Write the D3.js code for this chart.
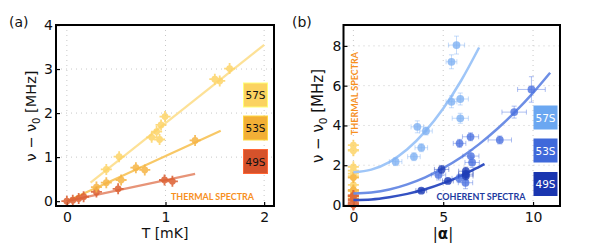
<!DOCTYPE html>
<html><head><meta charset="utf-8">
<script src="https://cdn.jsdelivr.net/npm/d3@7"></script>
<style>
html,body{margin:0;padding:0;background:#fff;}
svg{display:block;font-family:"DejaVu Sans",sans-serif;}
</style></head>
<body>
<svg id="chart" width="599" height="252"></svg>
<script>
// ---------- Panel (a) data ----------
const aT57 = [0.40,0.53,0.86,0.91,0.94,0.955,0.995,1.50,1.55,1.65];
const aV57 = [0.72,1.01,1.45,1.58,1.40,1.73,1.92,2.77,2.73,3.01];
const aT53 = [0.30,0.40,0.55,0.70,0.79,1.30];
const aV53 = [0.32,0.42,0.48,0.76,0.71,1.38];
const aT49 = [0.00,0.06,0.12,0.17,0.30,0.52,0.99,1.07];
const aV49 = [0.00,0.02,0.06,0.10,0.21,0.28,0.48,0.45];
const aFitT57 = [0.24,2.00], aFitV57 = [0.42,3.55];
const aFitT53 = [0.00,1.56], aFitV53 = [0.00,1.60];
const aFitT49 = [0.00,1.30], aFitV49 = [0.00,0.62];
const aXTicks = [0,1,2];
const aYTicks = [0,1,2,3,4];

// ---------- Panel (b) data ----------
const bA57 = [2.35,3.37,3.56,4.04,3.78,5.46,5.74,5.46,5.95,5.95];
const bV57 = [2.18,2.43,3.93,3.72,2.88,7.20,8.04,5.19,5.33,4.36];
const bAE57 = [0.35,0.35,0.35,0.35,0.35,0.30,0.45,0.30,0.45,0.45];
const bVE57 = [0.20,0.20,0.30,0.20,0.20,0.35,0.45,0.30,0.30,0.25];
const bA53 = [9.91,8.95,8.15,6.52,5.91,6.54,6.61,4.74,6.24,5.89];
const bV53 = [5.81,4.67,3.27,3.43,3.10,2.46,2.14,1.51,1.12,1.34];
const bAE53 = [0.77,0.68,0.65,0.45,0.35,0.45,0.40,0.40,0.40,0.40];
const bVE53 = [0.64,0.30,0.20,0.20,0.20,0.30,0.25,0.25,0.30,0.20];
const bA49 = [3.78,5.26,4.91,6.26,6.26,6.26];
const bV49 = [0.72,1.21,1.79,1.70,1.55,1.46];
const bAE49 = [0.30,0.30,0.40,0.40,0.40,0.40];
const bVE49 = [0.10,0.10,0.20,0.20,0.20,0.20];
const bCurveA57 = [0,1,2,3,4,5,6,7];
const bCurveV57 = [1.65,1.78,2.16,2.80,3.70,4.85,6.26,7.92];
const bCurveA53 = [0,1,2,3,4,5,6,7,8,9,10,10.95];
const bCurveV53 = [0.58,0.63,0.78,1.04,1.39,1.85,2.40,3.06,3.82,4.68,5.64,6.65];
const bCurveA49 = [0,1,2,3,4,5,6,7,7.3];
const bCurveV49 = [0.25,0.28,0.39,0.56,0.79,1.10,1.47,1.92,2.06];
const bXTicks = [0,5,10];
const bYTicks = [0,2,4,6,8];
const seriesNames = ["57S","53S","49S"];

const svg = d3.select("#chart");

// colours
const warm = {pt:["#fdd467","#f6b444","#dc5d2f"], line:["#fde196","#f8c866","#e79478"], box:["#fbd360","#f2af36","#d6522b"]};
const cool = {pt:["#80b2f3","#4c72e0","#1f3db6"], line:["#9fc6f8","#6d8ee5","#3451c2"], box:["#6ba7f1","#3f69da","#1a36b0"]};

function frame(g, x0, x1, y0, y1){
  g.append("rect").attr("x",x0).attr("y",y0).attr("width",x1-x0).attr("height",y1-y0)
    .attr("fill","none").attr("stroke","#000").attr("stroke-width",2);
}
function crossMarks(g, data, fx, fy, color){
  const gg = g.append("g").attr("opacity",0.85);
  gg.selectAll("path").data(data).enter().append("path")
    .attr("d",d=>{const x=fx(d),y=fy(d);return `M${x-5.5},${y}H${x+5.5}M${x},${y-5.5}V${y+5.5}`;})
    .attr("stroke",color).attr("stroke-width",1.8);
  gg.selectAll("circle").data(data).enter().append("circle")
    .attr("cx",fx).attr("cy",fy).attr("r",3.4).attr("fill",color);
}

// ================= Panel (a) =================
const xa = d3.scaleLinear().domain([-0.11,2.1]).range([56,274]);
const ya = d3.scaleLinear().domain([-0.11,4.0]).range([206,25]);
const ga = svg.append("g");

ga.selectAll(".gx").data(aXTicks).enter().append("line")
  .attr("x1",d=>xa(d)).attr("x2",d=>xa(d)).attr("y1",25).attr("y2",206)
  .attr("stroke","#c8c8c8").attr("stroke-width",1).attr("stroke-dasharray","1,4");
ga.selectAll(".gy").data(aYTicks.filter(d=>d>0)).enter().append("line")
  .attr("x1",56).attr("x2",274).attr("y1",d=>ya(d)).attr("y2",d=>ya(d))
  .attr("stroke","#c8c8c8").attr("stroke-width",1).attr("stroke-dasharray","1,4");

const axA_x = ga.append("g").attr("transform","translate(0,206)")
  .call(d3.axisBottom(xa).tickValues(aXTicks).tickSize(-4).tickPadding(6).tickFormat(d3.format("d")));
const axA_y = ga.append("g").attr("transform","translate(56,0)")
  .call(d3.axisLeft(ya).tickValues(aYTicks).tickSize(-4).tickPadding(3).tickFormat(d3.format("d")));
[axA_x, axA_y].forEach(a=>{
  a.select(".domain").remove();
  a.selectAll("line").attr("stroke","#000").attr("stroke-width",1.2);
  a.selectAll("text").attr("font-size",14).attr("fill","#111").attr("font-family","DejaVu Sans, sans-serif");
});

const fitsA = [[aFitT57,aFitV57],[aFitT53,aFitV53],[aFitT49,aFitV49]];
fitsA.forEach((f,i)=>{
  ga.append("path").datum(f[0].map((t,k)=>[t,f[1][k]]))
    .attr("d", d3.line().x(d=>xa(d[0])).y(d=>ya(d[1])))
    .attr("stroke",warm.line[i]).attr("stroke-width",2.2).attr("fill","none");
});
const ptsA = [[aT57,aV57],[aT53,aV53],[aT49,aV49]];
[2,1,0].forEach(i=>{
  const data = ptsA[i][0].map((t,k)=>[t,ptsA[i][1][k]]);
  crossMarks(ga, data, d=>xa(d[0]), d=>ya(d[1]), warm.pt[i]);
});

const boxYa = [83,116,149.5];
seriesNames.forEach((n,i)=>{
  ga.append("rect").attr("x",243.5).attr("y",boxYa[i]).attr("width",24).attr("height",24)
    .attr("fill",warm.box[i]).attr("stroke",d3.color(warm.box[i]).brighter(0.6)).attr("stroke-width",1);
  ga.append("text").attr("x",255.5).attr("y",boxYa[i]+16).attr("text-anchor","middle")
    .attr("font-size",10.5).attr("fill","#111").text(n);
});
ga.append("text").attr("x",171).attr("y",200).attr("font-family","Lato, sans-serif").attr("font-weight","bold")
  .attr("font-size",9).attr("fill","#f7901e").attr("textLength",83).attr("lengthAdjust","spacingAndGlyphs").text("THERMAL SPECTRA");

frame(ga,56,274,25,206);
ga.append("text").attr("x",9).attr("y",27).attr("font-size",14).attr("fill","#111").text("(a)");
ga.append("text").attr("x",165).attr("y",238).attr("text-anchor","middle").attr("font-size",14).attr("fill","#111").text("T [mK]");
const ylabA = ga.append("text").attr("transform","translate(36,116) rotate(-90)").attr("text-anchor","middle")
  .attr("font-size",14.5).attr("fill","#111");
ylabA.append("tspan").text("ν − ν");
ylabA.append("tspan").attr("font-size",10).attr("dy",4).text("0");
ylabA.append("tspan").attr("dy",-4).text(" [MHz]");

// ================= Panel (b) =================
const xb = d3.scaleLinear().domain([-0.55,11.5]).range([343.5,560]);
const yb = d3.scaleLinear().domain([-0.05,9.05]).range([206,25]);
const gb = svg.append("g");

gb.selectAll(".gx").data(bXTicks).enter().append("line")
  .attr("x1",d=>xb(d)).attr("x2",d=>xb(d)).attr("y1",25).attr("y2",206)
  .attr("stroke","#c8c8c8").attr("stroke-width",1).attr("stroke-dasharray","1,4");
gb.selectAll(".gy").data(bYTicks.filter(d=>d>0)).enter().append("line")
  .attr("x1",343.5).attr("x2",560).attr("y1",d=>yb(d)).attr("y2",d=>yb(d))
  .attr("stroke","#c8c8c8").attr("stroke-width",1).attr("stroke-dasharray","1,4");

const axB_x = gb.append("g").attr("transform","translate(0,206)")
  .call(d3.axisBottom(xb).tickValues(bXTicks).tickSize(-4).tickPadding(6).tickFormat(d3.format("d")));
const axB_y = gb.append("g").attr("transform","translate(343.5,0)")
  .call(d3.axisLeft(yb).tickValues(bYTicks).tickSize(-4).tickPadding(2).tickFormat(d3.format("d")));
[axB_x, axB_y].forEach(a=>{
  a.select(".domain").remove();
  a.selectAll("line").attr("stroke","#000").attr("stroke-width",1.2);
  a.selectAll("text").attr("font-size",14).attr("fill","#111").attr("font-family","DejaVu Sans, sans-serif");
});

[[aV57,0],[aV53,1],[aV49,2]].forEach(([vals,i])=>{
  crossMarks(gb, vals, d=>xb(0), d=>yb(d), warm.pt[i]);
});

const curvesB = [[bCurveA57,bCurveV57],[bCurveA53,bCurveV53],[bCurveA49,bCurveV49]];
curvesB.forEach((c,i)=>{
  gb.append("path").datum(c[0].map((a,k)=>[a,c[1][k]]))
    .attr("d", d3.line().curve(d3.curveMonotoneX).x(d=>xb(d[0])).y(d=>yb(d[1])))
    .attr("stroke",cool.line[i]).attr("stroke-width",2.5).attr("fill","none");
});

const ptsB = [[bA57,bV57,bAE57,bVE57],[bA53,bV53,bAE53,bVE53],[bA49,bV49,bAE49,bVE49]];
ptsB.forEach((s,i)=>{
  const data = s[0].map((a,k)=>({a:a,v:s[1][k],ea:s[2][k],ev:s[3][k]}));
  const g = gb.append("g");
  g.selectAll("path").data(data).enter().append("path")
    .attr("d",d=>{
      const x=xb(d.a),y=yb(d.v),xl=xb(d.a-d.ea),xr=xb(d.a+d.ea),yt=yb(d.v+d.ev),yB=yb(d.v-d.ev);
      return `M${xl},${y}H${xr}M${xl},${y-2.5}V${y+2.5}M${xr},${y-2.5}V${y+2.5}`+
             `M${x},${yt}V${yB}M${x-2.5},${yt}H${x+2.5}M${x-2.5},${yB}H${x+2.5}`;})
    .attr("stroke",cool.pt[i]).attr("stroke-opacity",0.45).attr("stroke-width",1).attr("fill","none");
  g.selectAll("circle").data(data).enter().append("circle")
    .attr("cx",d=>xb(d.a)).attr("cy",d=>yb(d.v)).attr("r",3.9)
    .attr("fill",cool.pt[i]).attr("fill-opacity",0.8);
});

const boxYb = [105.5,138.5,172];
seriesNames.forEach((n,i)=>{
  gb.append("rect").attr("x",533.5).attr("y",boxYb[i]).attr("width",24).attr("height",24)
    .attr("fill",cool.box[i]);
  gb.append("text").attr("x",545.5).attr("y",boxYb[i]+16).attr("text-anchor","middle")
    .attr("font-size",10.5).attr("fill","#fff").text(n);
});
gb.append("text").attr("x",436.5).attr("y",200).attr("font-family","Lato, sans-serif").attr("font-weight","bold")
  .attr("font-size",9).attr("fill","#1d3a9f").attr("textLength",89).attr("lengthAdjust","spacingAndGlyphs").text("COHERENT SPECTRA");
gb.append("text").attr("transform","translate(358,135) rotate(-90)").attr("font-family","Lato, sans-serif").attr("font-weight","bold")
  .attr("font-size",9).attr("fill","#f7901e").attr("textLength",83).attr("lengthAdjust","spacingAndGlyphs").text("THERMAL SPECTRA");

frame(gb,343.5,560,25,206);
gb.append("text").attr("x",292).attr("y",27).attr("font-size",14).attr("fill","#111").text("(b)");
const xlabB = gb.append("text").attr("x",443).attr("y",239).attr("text-anchor","middle").attr("font-size",15).attr("fill","#111");
xlabB.append("tspan").text("|");
xlabB.append("tspan").attr("font-weight","bold").text("α");
xlabB.append("tspan").text("|");
const ylabB = gb.append("text").attr("transform","translate(323,116) rotate(-90)").attr("text-anchor","middle")
  .attr("font-size",15).attr("fill","#111");
ylabB.append("tspan").text("ν − ν");
ylabB.append("tspan").attr("font-size",10.5).attr("dy",4).text("0");
ylabB.append("tspan").attr("dy",-4).text(" [MHz]");
</script>
</body></html>
